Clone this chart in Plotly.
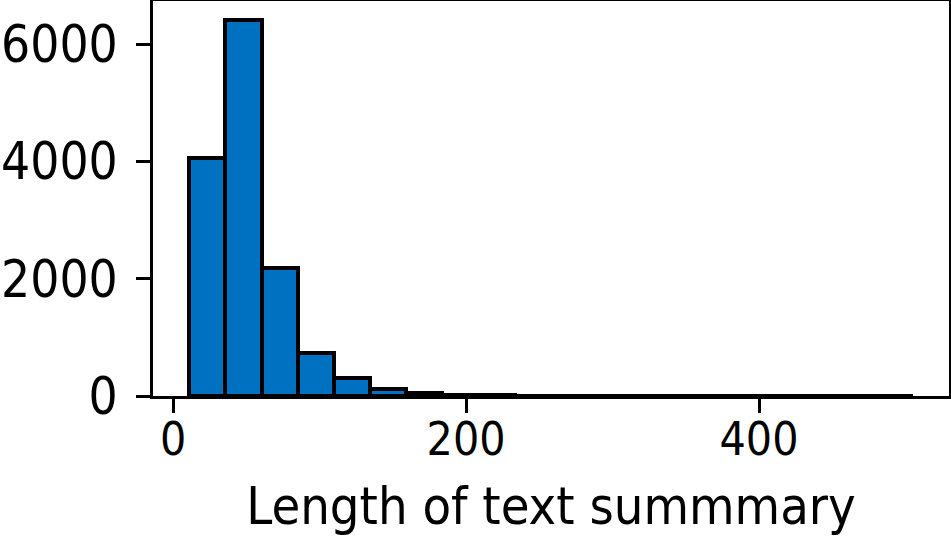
import plotly.graph_objects as go

# Histogram bin edges (length of text summary) and counts per bin
bin_edges = [11.0, 35.7, 60.4, 85.1, 109.8, 134.5, 159.2, 183.9, 208.6, 233.3,
             258.0, 282.7, 307.4, 332.1, 356.8, 381.5, 406.2, 430.9, 455.6, 480.3, 505.0]
counts = [4060, 6420, 2180, 740, 305, 120, 55, 25, 12, 6,
          4, 3, 2, 1, 1, 1, 0, 1, 1, 1]

x_ticks = [0, 200, 400]
y_ticks = [0, 2000, 4000, 6000]

centers = [(a + b) / 2 for a, b in zip(bin_edges[:-1], bin_edges[1:])]
widths = [b - a for a, b in zip(bin_edges[:-1], bin_edges[1:])]

FONT = "DejaVu Sans Condensed, DejaVu Sans"

fig = go.Figure(go.Bar(
    x=centers, y=counts, width=widths,
    marker=dict(color="#0070c0", line=dict(color="black", width=4)),
))

span = bin_edges[-1] - bin_edges[0]
fig.update_layout(
    width=951, height=536,
    margin=dict(l=153, r=2, t=1, b=140, autoexpand=False),
    paper_bgcolor="white", plot_bgcolor="white",
    font=dict(family=FONT, size=46, color="black"),
    showlegend=False,
    bargap=0,
)
fig.update_xaxes(
    range=[bin_edges[0] - 0.05 * span, bin_edges[-1] + 0.05 * span],
    tickvals=x_ticks, ticks="outside", ticklen=14, tickwidth=3, tickcolor="black",
    tickfont=dict(size=46), ticklabelstandoff=-13,
    showline=True, linewidth=3, linecolor="black", mirror=True,
    showgrid=False, zeroline=False, automargin=False,
    title=dict(text="Length of text summmary", standoff=26, font=dict(size=52)),
)
fig.update_yaxes(
    range=[0, max(counts) * 1.05],
    tickvals=y_ticks, ticks="outside", ticklen=14, tickwidth=3, tickcolor="black",
    tickfont=dict(size=51),
    showline=True, linewidth=3, linecolor="black", mirror=True,
    showgrid=False, zeroline=False, ticklabelstandoff=8, automargin=False,
)
fig.write_html(
    "out.html",
    config={"displayModeBar": False},
    post_script="document.body.style.margin='0';document.body.style.overflow='hidden';",
)
